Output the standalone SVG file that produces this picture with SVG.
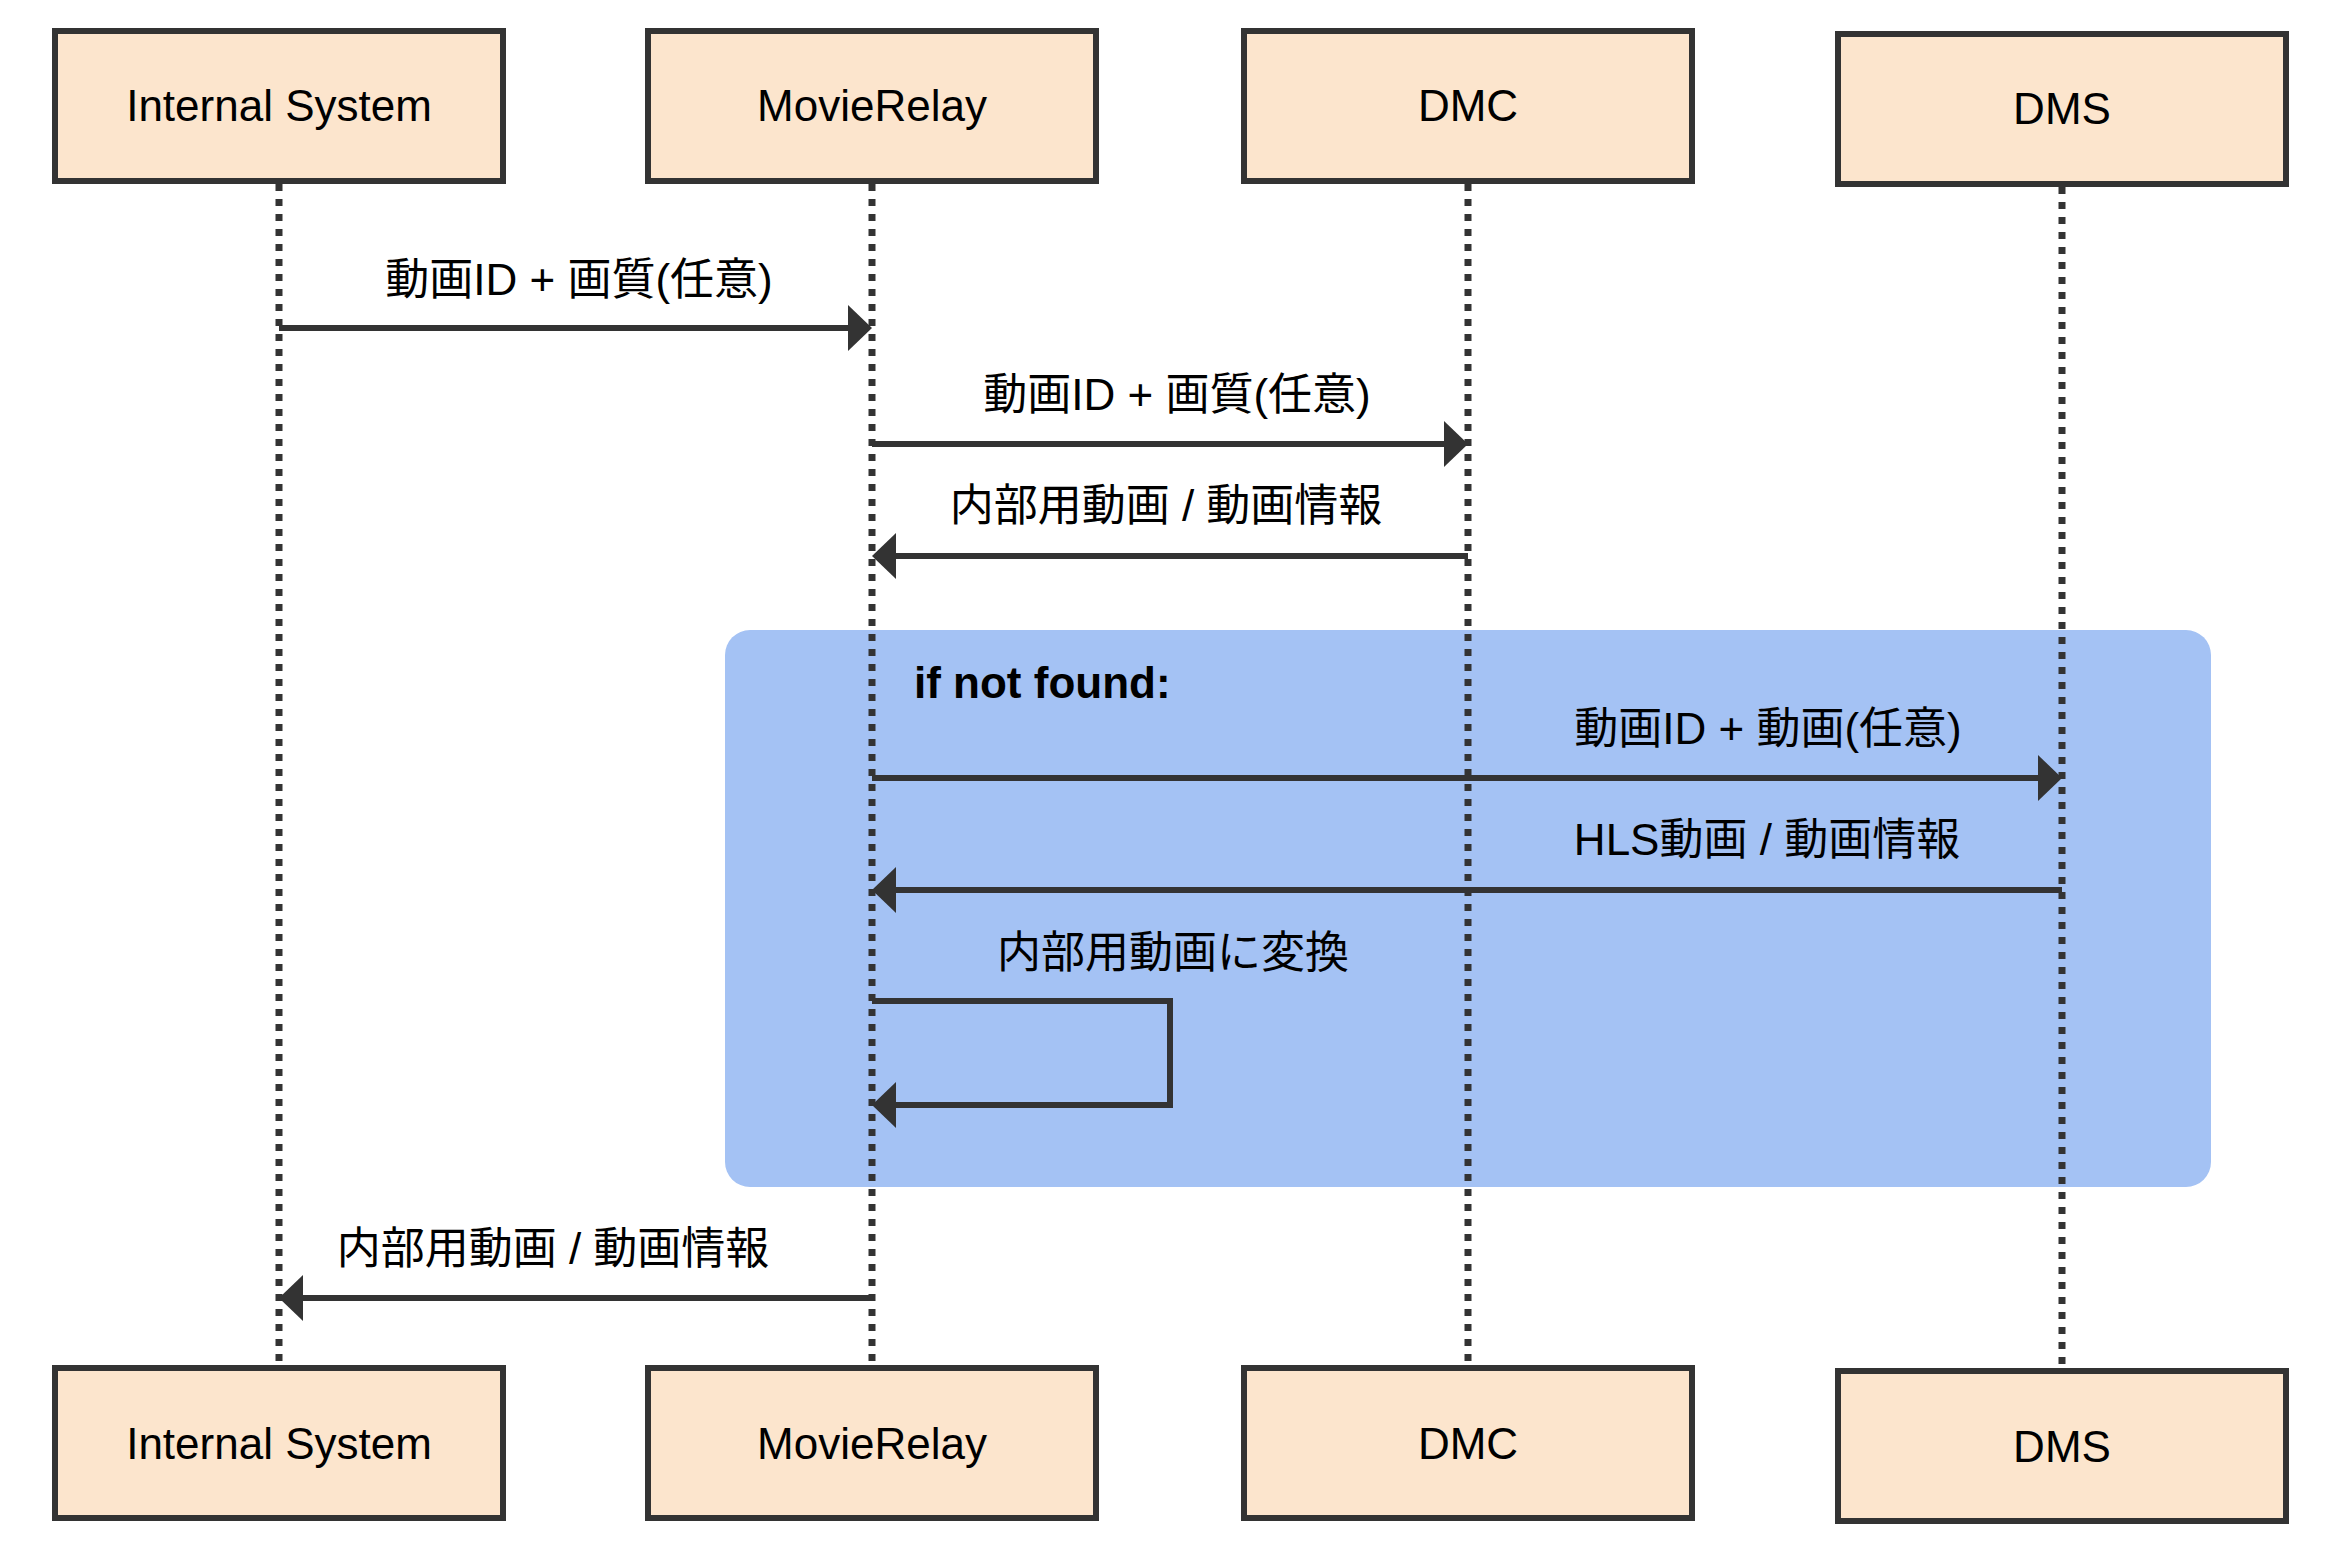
<svg xmlns="http://www.w3.org/2000/svg" width="2350" height="1558" viewBox="0 0 2350 1558">
  <style>
    .box { fill: #FCE5CD; stroke: #333333; stroke-width: 6; }
    .boxtext { font-family: "Liberation Sans", Arial, sans-serif; font-size: 44px; fill: #000; text-anchor: middle; }
    .label { font-family: "Liberation Sans", "Noto Sans CJK JP", sans-serif; font-size: 44px; fill: #000; text-anchor: middle; }
    .bold { font-family: "Liberation Sans", Arial, sans-serif; font-size: 44px; font-weight: bold; fill: #000; }
    .life { stroke: #333333; stroke-width: 7; stroke-dasharray: 7 8; fill: none; }
    .msg { stroke: #333333; stroke-width: 6; fill: none; }
    .arrow { stroke: #333333; stroke-width: 6; fill: none; marker-end: url(#head); }
  </style>
  <defs>
    <marker id="head" markerUnits="userSpaceOnUse" markerWidth="26" markerHeight="48" refX="4" refY="23" orient="auto" viewBox="0 0 26 48">
      <path d="M0,0 L24,23 L0,46 Z" fill="#333333"/>
    </marker>
  </defs>
  <rect width="2350" height="1558" fill="#ffffff"/>

  <g id="group-if-not-found">
    <rect x="725" y="630" width="1486" height="557" rx="25" ry="25" fill="#A4C2F4"/>
    <text class="bold" x="914" y="698">if not found:</text>
  </g>

  <g id="lifelines">
    <line class="life" x1="279" y1="184" x2="279" y2="1366"/>
    <line class="life" x1="872" y1="184" x2="872" y2="1366"/>
    <line class="life" x1="1468" y1="184" x2="1468" y2="1366"/>
    <line class="life" x1="2062" y1="187" x2="2062" y2="1369"/>
  </g>

  <g id="internal-system-top">
    <rect class="box" x="55" y="31" width="448" height="150"/>
    <text class="boxtext" x="279" y="121">Internal System</text>
  </g>
  <g id="movierelay-top">
    <rect class="box" x="648" y="31" width="448" height="150"/>
    <text class="boxtext" x="872" y="121">MovieRelay</text>
  </g>
  <g id="dmc-top">
    <rect class="box" x="1244" y="31" width="448" height="150"/>
    <text class="boxtext" x="1468" y="121">DMC</text>
  </g>
  <g id="dms-top">
    <rect class="box" x="1838" y="34" width="448" height="150"/>
    <text class="boxtext" x="2062" y="124">DMS</text>
  </g>

  <g id="internal-system-bottom">
    <rect class="box" x="55" y="1368" width="448" height="150"/>
    <text class="boxtext" x="279" y="1459">Internal System</text>
  </g>
  <g id="movierelay-bottom">
    <rect class="box" x="648" y="1368" width="448" height="150"/>
    <text class="boxtext" x="872" y="1459">MovieRelay</text>
  </g>
  <g id="dmc-bottom">
    <rect class="box" x="1244" y="1368" width="448" height="150"/>
    <text class="boxtext" x="1468" y="1459">DMC</text>
  </g>
  <g id="dms-bottom">
    <rect class="box" x="1838" y="1371" width="448" height="150"/>
    <text class="boxtext" x="2062" y="1462">DMS</text>
  </g>

  <g id="connectors">
    <line class="arrow" x1="279" y1="328" x2="852" y2="328"/>
    <text class="label" x="579" y="295">動画ID + 画質(任意)</text>

    <line class="arrow" x1="872" y1="444" x2="1448" y2="444"/>
    <text class="label" x="1177" y="410">動画ID + 画質(任意)</text>

    <line class="arrow" x1="1468" y1="556" x2="892" y2="556"/>
    <text class="label" x="1166" y="521">内部用動画 / 動画情報</text>

    <line class="arrow" x1="872" y1="778" x2="2042" y2="778"/>
    <text class="label" x="1768" y="744">動画ID + 動画(任意)</text>

    <line class="arrow" x1="2062" y1="890" x2="892" y2="890"/>
    <text class="label" x="1767" y="855">HLS動画 / 動画情報</text>

    <polyline class="arrow" points="872,1001 1170,1001 1170,1105 892,1105"/>
    <text class="label" x="1173" y="968">内部用動画に変換</text>

    <line class="arrow" x1="872" y1="1298" x2="299" y2="1298"/>
    <text class="label" x="553" y="1264">内部用動画 / 動画情報</text>
  </g>
</svg>
